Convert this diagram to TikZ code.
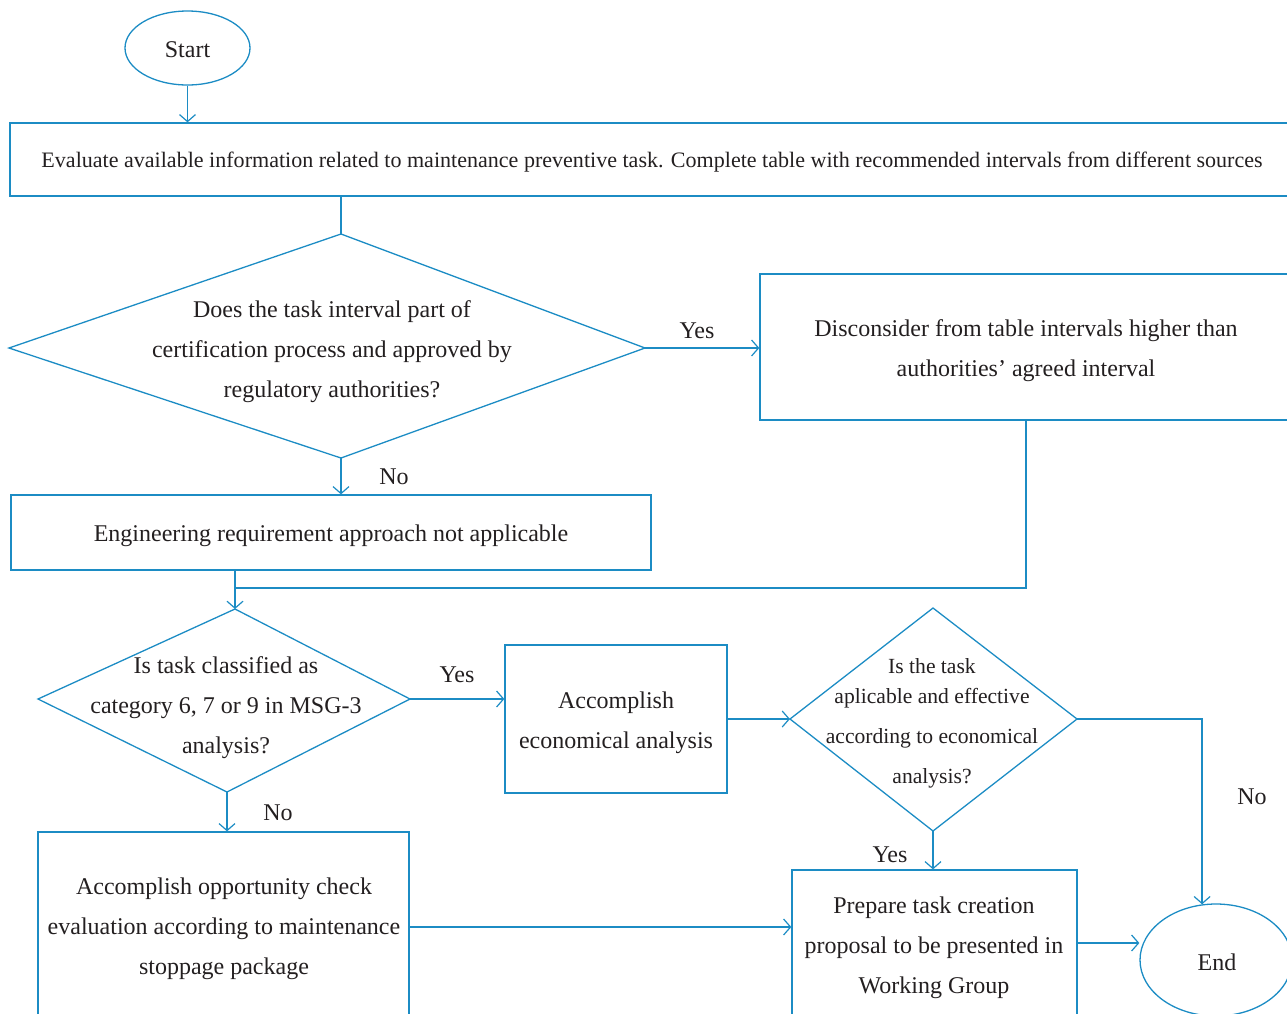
\documentclass[tikz,border=0pt]{standalone}
\usepackage{fontspec}
\setmainfont{Liberation Serif}
\usetikzlibrary{arrows.meta,shapes.geometric}
\definecolor{flow}{RGB}{28,140,196}
\definecolor{ink}{RGB}{35,31,32}
\begin{document}
\begin{tikzpicture}[x=1pt,y=-1pt,
  conn/.style={draw=flow,line width=1.3pt},
  arr/.style={conn,-{Straight Barb[length=7pt,width=16pt,line width=1.2pt]}},
  box/.style={draw=flow,line width=1.3pt,rectangle,inner sep=0pt},
  oval/.style={draw=flow,line width=1.3pt,ellipse,inner sep=0pt},
  txt/.style={text=ink,font=\fontsize{24}{40}\selectfont,align=center,inner sep=0pt},
  smalltxt/.style={text=ink,font=\fontsize{21.6}{40}\selectfont,align=center,inner sep=0pt},
  lbl/.style={text=ink,font=\fontsize{24}{28}\selectfont,inner sep=0pt}]
\useasboundingbox (0,0) rectangle (1287,1013);
\clip (0,0) rectangle (1287,1013);

% start
\node[oval,minimum width=125pt,minimum height=74pt] (start) at (187.5,48) {};
\node[txt] (starttxt) at (187.5,50) {Start};
% evaluate box
\node[box,minimum width=1285pt,minimum height=73pt] (eval) at (652.5,159.5) {};
\node[txt,font=\fontsize{22.05}{40}\selectfont] (evaltxt) at (652,162) {Evaluate available information related to maintenance preventive task. Complete table with recommended intervals from different sources};

% diamond 1
\coordinate (d1t) at (341,234);
\coordinate (d1r) at (645,348);
\coordinate (d1b) at (341,458);
\coordinate (d1l) at (9,348);
\draw[conn] (d1t)--(d1r)--(d1b)--(d1l)--cycle;
\node[txt] (q1) at (332,352) {Does the task interval part of\\certification process and approved by\\regulatory authorities?};

% disconsider box
\node[box,minimum width=532pt,minimum height=146pt] (disc) at (1026,347) {};
\node[txt] (disctxt) at (1026,351) {Disconsider from table intervals higher than\\authorities’ agreed interval};

% engineering box
\node[box,minimum width=640pt,minimum height=75pt] (eng) at (331,532.5) {};
\node[txt] (engtxt) at (331,536) {Engineering requirement approach not applicable};

% diamond 2
\coordinate (d2t) at (235,609);
\coordinate (d2r) at (410,699);
\coordinate (d2b) at (227,792);
\coordinate (d2l) at (38,699);
\draw[conn] (d2t)--(d2r)--(d2b)--(d2l)--cycle;
\node[txt] (q2) at (226,708) {Is task classified as\\category 6, 7 or 9 in MSG-3\\analysis?};

% economical analysis box
\node[box,minimum width=222pt,minimum height=148pt] (acc) at (616,719) {};
\node[txt] (acctxt) at (616,723) {Accomplish\\economical analysis};

% diamond 3
\coordinate (d3t) at (933,608);
\coordinate (d3r) at (1077,719);
\coordinate (d3b) at (933,831);
\coordinate (d3l) at (790,719);
\draw[conn] (d3t)--(d3r)--(d3b)--(d3l)--cycle;
\node[smalltxt] (q3) at (932,723) {Is the task\\[-10pt]aplicable and effective\\according to economical\\analysis?};

% opportunity box
\node[box,minimum width=371pt,minimum height=190pt] (opp) at (223.5,927) {};
\node[txt] (opptxt) at (224,929) {Accomplish opportunity check\\evaluation according to maintenance\\stoppage package};

% prepare box
\node[box,minimum width=285pt,minimum height=152pt] (prep) at (934.5,946) {};
\node[txt] (preptxt) at (934,948) {Prepare task creation\\proposal to be presented in\\Working Group};

% end
\node[oval,minimum width=152pt,minimum height=112pt] (endn) at (1216,960) {};
\node[txt] (endtxt) at (1217,962) {End};

% connectors
\draw[arr] (start.south) -- (start.south |- eval.north);
\draw[conn] (d1t |- eval.south) -- (d1t);
\draw[arr] (d1r) -- (disc.west |- d1r);
\draw[arr] (d1b) -- (d1b |- eng.north);
\coordinate (merge) at (235,588);
\draw[conn] (disc.south) |- (merge);
\draw[arr] (d2t |- eng.south) -- (d2t);
\draw[arr] (d2r) -- (acc.west |- d2r);
\draw[arr] (acc.east) -- (d3l);
\draw[arr] (d3r) -| (endn.104);
\draw[arr] (d3b) -- (d3b |- prep.north);
\draw[arr] (d2b) -- (d2b |- opp.north);
\draw[arr] (opp.east) -- (prep.west |- opp.east);
\coordinate (pe) at ([yshift=3pt]prep.east);
\draw[arr] (pe) -- (endn.west |- pe);

% labels
\node[lbl] (y1) at (697,331) {Yes};
\node[lbl] (n1) at (394,477) {No};
\node[lbl] (y2) at (457,675) {Yes};
\node[lbl] (n2) at (278,813) {No};
\node[lbl] (n3) at (1252,797) {No};
\node[lbl] (y3) at (890,855) {Yes};
\end{tikzpicture}
\end{document}
